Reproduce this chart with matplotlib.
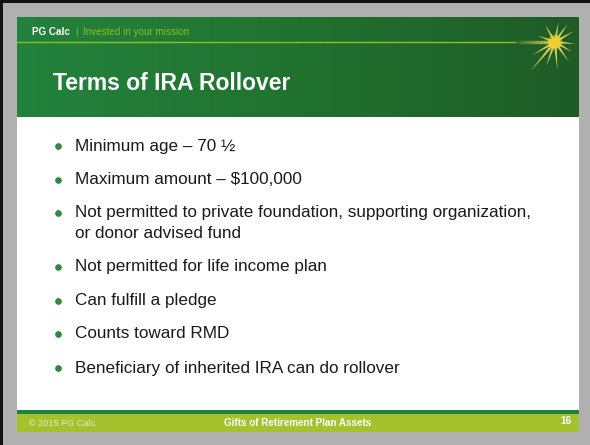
import numpy as np
import matplotlib.pyplot as plt
import matplotlib.patches as patches
from matplotlib.colors import LinearSegmentedColormap

plt.rcParams['font.family'] = ['Liberation Sans', 'DejaVu Sans']

# testi della slide
brand = "PG Calc"
tagline = "Invested in your mission"
title = "Terms of IRA Rollover"
bullets = [
    "Minimum age \u2013 70 \u00bd",
    "Maximum amount \u2013 $100,000",
    "Not permitted to private foundation, supporting organization,\nor donor advised fund",
    "Not permitted for life income plan",
    "Can fulfill a pledge",
    "Counts toward RMD",
    "Beneficiary of inherited IRA can do rollover",
]
footer_left = "\u00a9 2015 PG Calc"
footer_mid = "Gifts of Retirement Plan Assets"
page_no = "16"

W, H = 590, 445
fig = plt.figure(figsize=(W / 100, H / 100), dpi=100)
ax = fig.add_axes([0, 0, 1, 1])
ax.set_xlim(0, W)
ax.set_ylim(H, 0)
ax.axis('off')

# sfondo grigio e bordo scuro
ax.add_patch(patches.Rectangle((0, 0), W, H, facecolor='#b0b0b0', edgecolor='none'))
ax.add_patch(patches.Rectangle((0, 0), W, 3, facecolor='#111111', edgecolor='none'))
ax.add_patch(patches.Rectangle((0, 0), 3, H, facecolor='#111111', edgecolor='none'))

# slide bianca
x0, x1, y0, y1 = 17, 579, 17, 432
ax.add_patch(patches.Rectangle((x0, y0), x1 - x0, y1 - y0, facecolor='white', edgecolor='none'))

# intestazione con sfumatura verde
cmap = LinearSegmentedColormap.from_list('hdr', ['#23823d', '#21722f', '#1e5b27'])
grad = np.linspace(0, 1, 256).reshape(1, -1)
ax.imshow(grad, cmap=cmap, extent=(x0, x1, 117, y0), aspect='auto', zorder=1)

# linea lime dell'intestazione
ax.plot([x0, 515], [42, 42], color='#8cc21e', lw=1.0, zorder=2)
ax.text(32, 32, brand, color='white', fontsize=7.1, fontweight='bold', va='center', zorder=3)
ax.text(75, 32, "|", color='#8cc21e', fontsize=7.1, va='center', zorder=3)
ax.text(83, 32, tagline, color='#8cc21e', fontsize=7.1, va='center', zorder=3)

# stella
cx, cy = 555, 42
for k, a in enumerate(np.linspace(0, 1, 20)):
    ax.plot([515 + k * 2, 517 + k * 2], [42, 42], color='#f3df52', lw=2.4, alpha=0.1 + 0.85 * a,
            solid_capstyle='butt', zorder=3)
angles = [-80, -55, -30, 5, 30, 55, 85, 110, 130, 150, 200, 240]
lengths = [20, 22, 22, 20, 20, 24, 28, 26, 38, 26, 18, 20]
for ang, r in zip(angles, lengths):
    a = np.deg2rad(ang)
    dx, dy = np.cos(a), np.sin(a)
    px, py = -dy * 1.6, dx * 1.6
    tri = [(cx + px, cy + py), (cx - px, cy - py), (cx + r * dx, cy + r * dy)]
    ax.add_patch(patches.Polygon(tri, closed=True, facecolor='#f2e15c', edgecolor='none',
                                 alpha=0.85, zorder=3))
ax.add_patch(patches.Circle((cx, cy), 7, facecolor='#f6d63a', edgecolor='none', alpha=0.5, zorder=4))
ax.add_patch(patches.Circle((cx, cy), 4.5, facecolor='#f6cc26', edgecolor='none', zorder=4))

# titolo
ax.text(53, 84, title, color='white', fontsize=16.5, fontweight='bold', va='center', zorder=3)

# elenco puntato
ys = [146, 180, 213, 267, 301, 334, 368]
for y, txt in zip(ys, bullets):
    ax.plot(58, y, marker='o', markersize=3.8, color='#2f8a3b', zorder=3)
    for j, line in enumerate(txt.split('\n')):
        ax.text(75, y + j * 20.5, line, color='#1a1a1a', fontsize=12.3, va='center', zorder=3)

# pie di pagina
ax.add_patch(patches.Rectangle((x0, 410), x1 - x0, 3.5, facecolor='#1f8040', edgecolor='none'))
ax.add_patch(patches.Rectangle((x0, 413.5), x1 - x0, y1 - 413.5, facecolor='#a3c22e', edgecolor='none'))
ax.text(29, 423, footer_left, color='#e3edc0', fontsize=6.6, va='center')
ax.text(298, 423, footer_mid, color='white', fontsize=7.1, fontweight='bold', va='center', ha='center')
ax.text(571, 421, page_no, color='white', fontsize=7.1, fontweight='bold', va='center', ha='right')

fig.savefig('out.png', dpi=100)
